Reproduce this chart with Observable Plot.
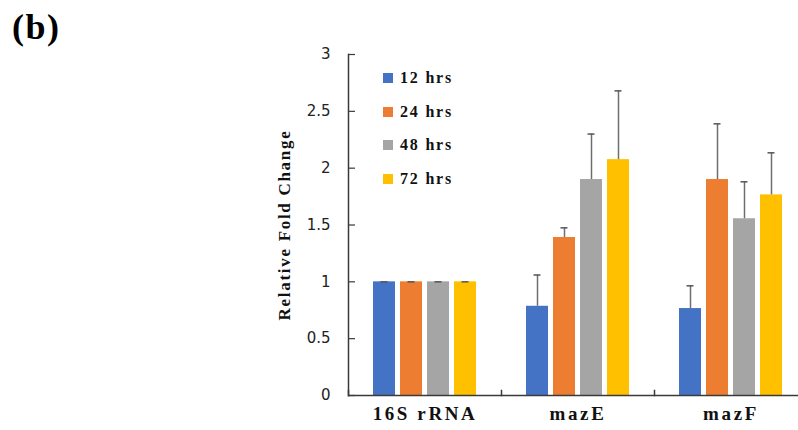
<!DOCTYPE html>
<html>
<head>
<meta charset="utf-8">
<script src="https://cdn.jsdelivr.net/npm/d3@7"></script>
<script src="https://cdn.jsdelivr.net/npm/@observablehq/plot@0.6"></script>
<style>
  html, body { margin: 0; padding: 0; background: #fff; overflow: hidden; width: 798px; height: 430px; }
  #wrap { position: relative; width: 798px; height: 430px; overflow: hidden; }
  #panel { position: absolute; left: 12px; top: 6px; font: bold 36px "Liberation Serif", serif; letter-spacing: 1.5px; color: #000; }
  #ytitle { position: absolute; left: 285px; top: 225px; transform: translate(-50%, -50%) rotate(-90deg);
            font: bold 17px "Liberation Serif", serif; letter-spacing: 1.7px; white-space: nowrap; color: #111; }
  #legend { position: absolute; left: 383px; top: 61px; font: bold 16px "Liberation Serif", serif; letter-spacing: 1.8px; color: #111; }
  #legend .item { display: flex; align-items: center; height: 33.7px; }
  #legend .sw { width: 10px; height: 10px; margin-right: 7px; }
  #chart { position: absolute; left: 0; top: 0; width: 810px; }
  #chart svg { max-width: none !important; width: 810px; height: 430px; }
  g[aria-label="fx-axis tick label"] text { letter-spacing: 2.6px; }
</style>
</head>
<body>
<div id="wrap">
  <div id="chart"></div>
  <div id="panel">(b)</div>
  <div id="ytitle">Relative Fold Change</div>
  <div id="legend"></div>
</div>
<script>
const genes = ["16S rRNA", "mazE", "mazF"];
const times = ["12 hrs", "24 hrs", "48 hrs", "72 hrs"];
const colors = ["#4472C4", "#ED7D31", "#A5A5A5", "#FFC000"];
const mean16S = [1, 1, 1, 1];
const meanMazE = [0.785, 1.39, 1.90, 2.075];
const meanMazF = [0.765, 1.90, 1.555, 1.765];
const err16S = [0, 0, 0, 0];
const errMazE = [0.275, 0.085, 0.40, 0.605];
const errMazF = [0.20, 0.49, 0.325, 0.37];
const yTicks = [0, 0.5, 1, 1.5, 2, 2.5, 3];

const means = [mean16S, meanMazE, meanMazF];
const errs = [err16S, errMazE, errMazF];
const rows = [];
genes.forEach((g, gi) => times.forEach((t, ti) => {
  rows.push({gene: g, time: t, value: means[gi][ti], hi: means[gi][ti] + errs[gi][ti]});
}));

const chart = Plot.plot({
  width: 810,
  height: 430,
  marginLeft: 348,
  marginRight: 3,
  marginTop: 54,
  marginBottom: 35,
  style: {background: "transparent", overflow: "visible", maxWidth: "none"},
  fx: {domain: genes, padding: 0, label: null},
  x: {domain: times, paddingInner: 0.2, paddingOuter: 0.9, axis: null},
  y: {domain: [0, 3], label: null},
  color: {domain: times, range: colors},
  marks: [
    Plot.barY(rows, {fx: "gene", x: "time", y: "value", fill: "time"}),
    Plot.ruleX(rows, {fx: "gene", x: "time", y1: "value", y2: "hi", stroke: "#6e6e6e", strokeWidth: 1.5}),
    Plot.tickY(rows, {fx: "gene", x: "time", y: "hi", stroke: "#555", strokeWidth: 1.5, insetLeft: 7.5, insetRight: 7.5}),
    Plot.ruleY([0], {stroke: "#3a3a3a", strokeWidth: 1.5}),
    Plot.frame({anchor: "left", facetAnchor: "left", stroke: "#3a3a3a", strokeWidth: 1.5}),
    Plot.frame({anchor: "left", insetTop: 336, stroke: "#3a3a3a", strokeWidth: 1.5}),
    Plot.axisY({ticks: yTicks, tickSize: -7, tickPadding: 25, stroke: "#3a3a3a", strokeWidth: 1.2,
                fontSize: 15, fontFamily: "DejaVu Sans", fill: "#222", label: null,
                tickFormat: d => String(d)}),
    Plot.axisFx({anchor: "bottom", tickSize: 0, tickPadding: 11, fontSize: 19, fontWeight: "bold",
                 fontFamily: "Liberation Serif", fill: "#111", label: null})
  ]
});
document.getElementById("chart").appendChild(chart);

const legend = document.getElementById("legend");
times.forEach((t, i) => {
  const item = document.createElement("div");
  item.className = "item";
  const sw = document.createElement("span");
  sw.className = "sw";
  sw.style.background = colors[i];
  const lab = document.createElement("span");
  lab.textContent = t;
  item.appendChild(sw);
  item.appendChild(lab);
  legend.appendChild(item);
});
</script>
</body>
</html>
